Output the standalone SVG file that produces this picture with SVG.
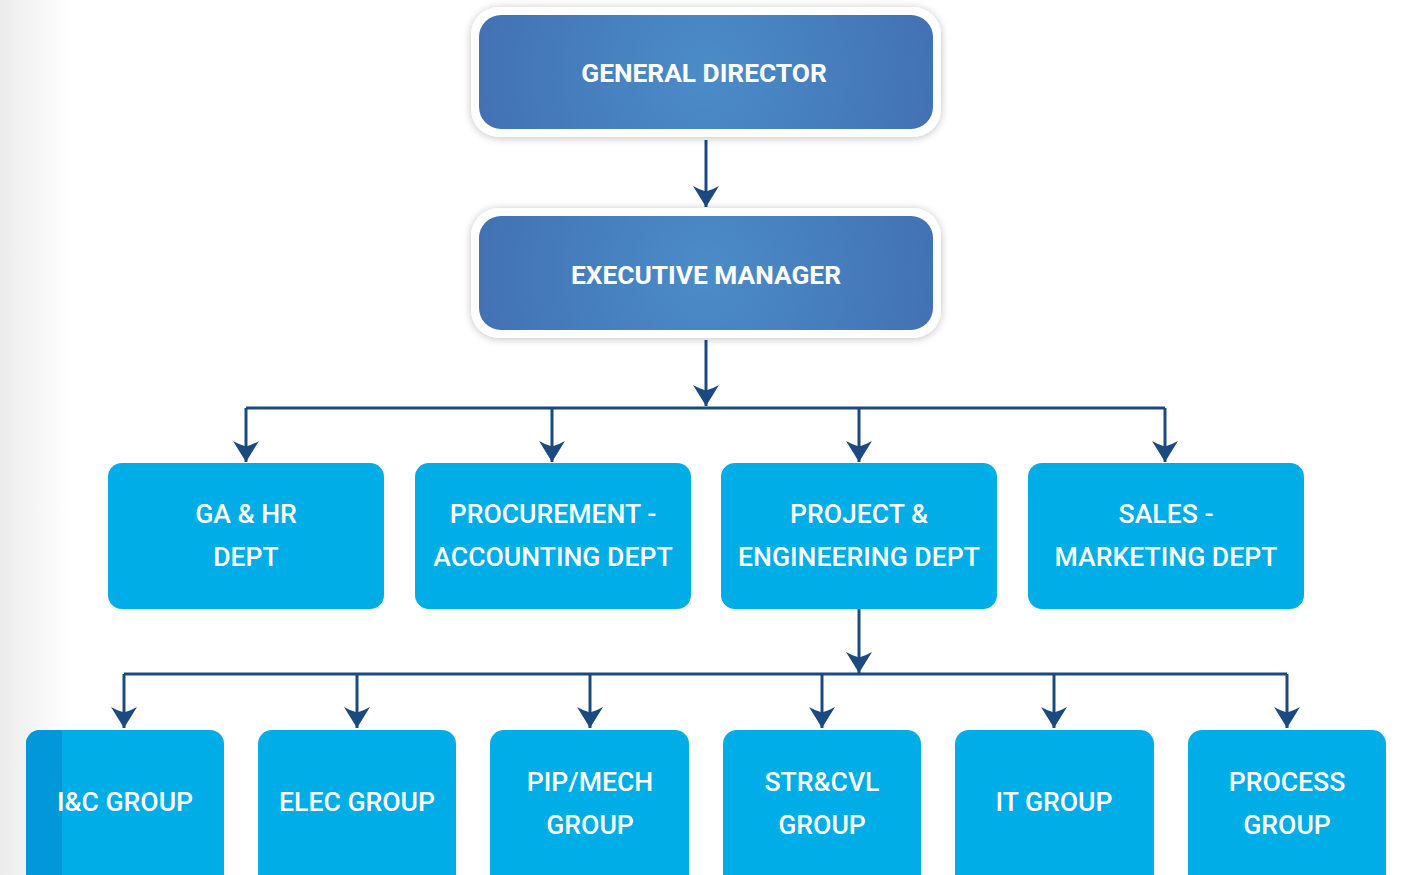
<svg xmlns="http://www.w3.org/2000/svg" width="1404" height="875" viewBox="0 0 1404 875">
<defs>
<linearGradient id="bgl" x1="0" y1="0" x2="1" y2="0">
<stop offset="0" stop-color="#ececec"/>
<stop offset="1" stop-color="#ffffff"/>
</linearGradient>
<radialGradient id="topg" cx="0.5" cy="0.5" r="0.6" gradientTransform="translate(0.5 0.5) scale(1 4) translate(-0.5 -0.5)">
<stop offset="0" stop-color="#4b8cc8"/>
<stop offset="1" stop-color="#416db0"/>
</radialGradient>
<filter id="sh" x="-10%" y="-20%" width="120%" height="140%">
<feGaussianBlur in="SourceAlpha" stdDeviation="4"/>
<feOffset dx="0" dy="1"/>
<feComponentTransfer><feFuncA type="linear" slope="0.25"/></feComponentTransfer>
<feMerge><feMergeNode/><feMergeNode in="SourceGraphic"/></feMerge>
</filter>
<marker id="ah" markerUnits="userSpaceOnUse" markerWidth="24" markerHeight="28" viewBox="0 0 24 28" refX="22" refY="14" orient="auto">
<path d="M22 14 L1 1 Q5 8 6.5 14 Q5 20 1 27 Z" fill="#1b4a80"/>
</marker>
</defs>
<style>
.line{fill:none;stroke:#1b4a80;stroke-width:3}
.arr{marker-end:url(#ah)}
.frame{fill:#ffffff;filter:url(#sh)}
.top{fill:url(#topg)}
.box{fill:#00ade6}
.tt{font-family:Roboto,"Liberation Sans",sans-serif;font-weight:bold;font-size:26.3px;fill:#ffffff;text-anchor:middle}
.t{font-family:Roboto,"Liberation Sans",sans-serif;font-weight:500;font-size:26.6px;fill:#ffffff;text-anchor:middle}
</style>
<rect x="0" y="0" width="1404" height="875" fill="#ffffff"/>
<rect x="0" y="0" width="70" height="875" fill="url(#bgl)"/>

<g id="connectors">
<path class="line arr" d="M706 140 V207"/>
<path class="line arr" d="M706 340 V406"/>
<path class="line" d="M246 408 H1165"/>
<path class="line arr" d="M246 408 V462"/>
<path class="line arr" d="M552 408 V462"/>
<path class="line arr" d="M859 408 V462"/>
<path class="line arr" d="M1165 408 V462"/>
<path class="line arr" d="M859 608 V673"/>
<path class="line" d="M124 674 H1287"/>
<path class="line arr" d="M124 674 V728"/>
<path class="line arr" d="M357 674 V728"/>
<path class="line arr" d="M590 674 V728"/>
<path class="line arr" d="M822 674 V728"/>
<path class="line arr" d="M1054 674 V728"/>
<path class="line arr" d="M1287 674 V728"/>
</g>

<g id="general-director">
<rect class="frame" x="471" y="7" width="470" height="130" rx="28"/>
<rect class="top" x="479" y="15" width="454" height="114" rx="22"/>
<text class="tt" x="704" y="82">GENERAL DIRECTOR</text>
</g>
<g id="executive-manager">
<rect class="frame" x="471" y="208" width="470" height="130" rx="28"/>
<rect class="top" x="479" y="216" width="454" height="114" rx="22"/>
<text class="tt" x="706" y="284">EXECUTIVE MANAGER</text>
</g>

<g id="ga-hr">
<rect class="box" x="108" y="463" width="276" height="146" rx="14"/>
<text class="t" x="246" y="523">GA &amp; HR</text>
<text class="t" x="246" y="566">DEPT</text>
</g>
<g id="procurement">
<rect class="box" x="415" y="463" width="276" height="146" rx="14"/>
<text class="t" x="553" y="523">PROCUREMENT -</text>
<text class="t" x="553" y="566">ACCOUNTING DEPT</text>
</g>
<g id="project-engineering">
<rect class="box" x="721" y="463" width="276" height="146" rx="14"/>
<text class="t" x="859" y="523">PROJECT &amp;</text>
<text class="t" x="859" y="566">ENGINEERING DEPT</text>
</g>
<g id="sales-marketing">
<rect class="box" x="1028" y="463" width="276" height="146" rx="14"/>
<text class="t" x="1166" y="523">SALES -</text>
<text class="t" x="1166" y="566">MARKETING DEPT</text>
</g>

<g id="ic-group">
<rect class="box" x="26" y="730" width="198" height="160" rx="14"/>
<path d="M40 730 H62 V875 H26 V744 A14 14 0 0 1 40 730 Z" fill="#0098d8"/>
<text class="t" x="125" y="811">I&amp;C GROUP</text>
</g>
<g id="elec-group">
<rect class="box" x="258" y="730" width="198" height="160" rx="14"/>
<text class="t" x="357" y="811">ELEC GROUP</text>
</g>
<g id="pip-mech-group">
<rect class="box" x="490" y="730" width="199" height="160" rx="14"/>
<text class="t" x="590" y="791">PIP/MECH</text>
<text class="t" x="590" y="834">GROUP</text>
</g>
<g id="str-cvl-group">
<rect class="box" x="723" y="730" width="198" height="160" rx="14"/>
<text class="t" x="822" y="791">STR&amp;CVL</text>
<text class="t" x="822" y="834">GROUP</text>
</g>
<g id="it-group">
<rect class="box" x="955" y="730" width="199" height="160" rx="14"/>
<text class="t" x="1054" y="811">IT GROUP</text>
</g>
<g id="process-group">
<rect class="box" x="1188" y="730" width="198" height="160" rx="14"/>
<text class="t" x="1287" y="791">PROCESS</text>
<text class="t" x="1287" y="834">GROUP</text>
</g>
</svg>
